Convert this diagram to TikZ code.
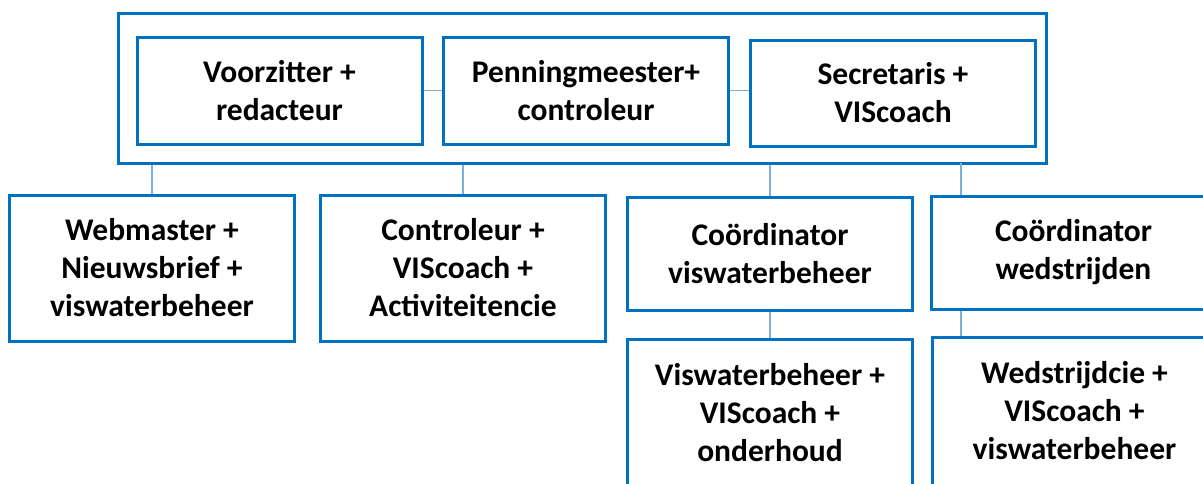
\documentclass[tikz,border=0pt]{standalone}
\usepackage{fontspec}
\setmainfont{Carlito}
\usepackage{tikz}

\definecolor{boxblauw}{HTML}{0070C0}
\definecolor{lijnblauw}{HTML}{7EB0DE}

\begin{document}
\begin{tikzpicture}[x=1pt,y=-1pt]
\tikzstyle{every node}=[draw=boxblauw,line width=3pt,fill=white,align=center,inner sep=2pt,font=\fontsize{31.5}{38}\selectfont\bfseries]
\tikzstyle{functie}=[minimum width=285pt,minimum height=107pt]
\tikzstyle{lijn}=[draw=lijnblauw,line width=1.5pt]

\useasboundingbox (0,0) rectangle (1203,483);
\clip (0,0) rectangle (1203,483);

% bestuur
\node[minimum width=928pt,minimum height=150pt] (bestuur) at (582,88) {};
\node[functie] (voorz) at (279.5,90.5) {Voorzitter +\\redacteur};
\node[functie] (penn) at (586,90.5) {Penningmeester+\\controleur};
\node[functie,minimum height=106pt] (secr) at (893,93) {Secretaris +\\VIScoach};

% tweede laag
\node[functie,minimum height=146pt] (web) at (152,268) {Webmaster +\\Nieuwsbrief +\\viswaterbeheer};
\node[functie,minimum height=146pt] (contr) at (463,268) {Controleur +\\VIScoach +\\Activiteitencie};
\node[functie,minimum height=113pt] (coordvis) at (770,253.5) {Coördinator\\viswaterbeheer};
\node[functie,minimum height=113pt] (coordwed) at (1073.5,252.5) {Coördinator\\wedstrijden};

% derde laag
\node[functie,minimum height=148pt] (vis) at (770,413) {Viswaterbeheer +\\VIScoach +\\onderhoud};
\node[functie,minimum height=148pt] (wed) at (1074.5,411) {Wedstrijdcie +\\VIScoach +\\viswaterbeheer};

\coordinate (aftakwed) at (961,163);

\draw[lijn] (voorz.east) -- (penn.west);
\draw[lijn] (penn.east) -- (penn.east -| secr.west);
\draw[lijn] (bestuur.south -| web.north) -- (web.north);
\draw[lijn] (bestuur.south -| contr.north) -- (contr.north);
\draw[lijn] (bestuur.south -| coordvis.north) -- (coordvis.north);
\draw[lijn] (aftakwed) -- (aftakwed |- coordwed.north);
\draw[lijn] (coordvis.south) -- (vis.north);
\draw[lijn] (coordwed.south -| aftakwed) -- (wed.north -| aftakwed);

\end{tikzpicture}
\end{document}
